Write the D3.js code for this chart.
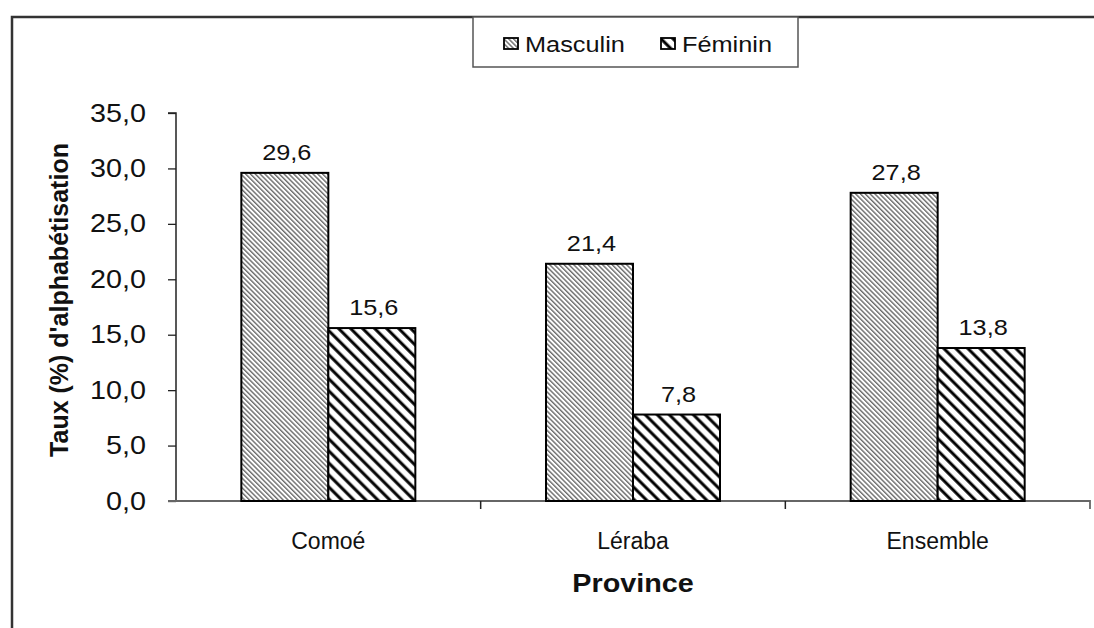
<!DOCTYPE html>
<html>
<head>
<meta charset="utf-8">
<script src="https://cdn.jsdelivr.net/npm/d3@7"></script>
<style>
  body { margin: 0; background: #fff; }
  text { font-family: "Liberation Sans", Arial, sans-serif; fill: #111; }
</style>
</head>
<body>
<svg id="chart" width="1094" height="628"></svg>
<script>
// data
var provinces = ["Comoé", "Léraba", "Ensemble"];
var series = ["Masculin", "Féminin"];
var masculin = [29.6, 21.4, 27.8];
var feminin = [15.6, 7.8, 13.8];
var yTicks = [0, 5, 10, 15, 20, 25, 30, 35];

var svg = d3.select("#chart");
var fmt = function(v) { return d3.format(".1f")(v).replace(".", ","); };
var stretch = 1.15; // the source picture is a bit wide

// patterns
var defs = svg.append("defs");
var p1 = defs.append("pattern")
	.attr("id", "hatch-m")
	.attr("patternUnits", "userSpaceOnUse")
	.attr("width", 3.4).attr("height", 3.4)
	.attr("patternTransform", "rotate(45)");
p1.append("rect").attr("width", 3.4).attr("height", 3.4).attr("fill", "#fff");
p1.append("line").attr("x1", 0).attr("x2", 3.4).attr("y1", 1).attr("y2", 1)
	.attr("stroke", "#6a6a6a").attr("stroke-width", 1.4);

var p2 = defs.append("pattern")
	.attr("id", "hatch-f")
	.attr("patternUnits", "userSpaceOnUse")
	.attr("width", 8.5).attr("height", 8.5)
	.attr("patternTransform", "rotate(45)");
p2.append("rect").attr("width", 8.5).attr("height", 8.5).attr("fill", "#fff");
p2.append("line").attr("x1", 0).attr("x2", 8.5).attr("y1", 2).attr("y2", 2)
	.attr("stroke", "#000").attr("stroke-width", 3);

var fills = ["url(#hatch-m)", "url(#hatch-f)"];

// outer frame
svg.append("path")
	.attr("d", "M12,640 L12,17 L1100,17")
	.attr("fill", "none").attr("stroke", "#333").attr("stroke-width", 2.5);

var plotLeft = 176, plotRight = 1090, plotTop = 113, plotBottom = 501;

var x0 = d3.scaleBand().domain(provinces).range([plotLeft, plotRight]);
var x1 = d3.scaleBand().domain(series).range([0, 174]);
var y = d3.scaleLinear().domain([0, 35]).range([plotBottom, plotTop]);

// y axis
var yAxis = svg.append("g")
	.attr("transform", "translate(" + plotLeft + ",0)")
	.call(d3.axisLeft(y).tickValues(yTicks).tickFormat(fmt).tickSize(8).tickPadding(22));
yAxis.select(".domain").attr("stroke", "#222").attr("stroke-width", 1.5)
	.attr("d", "M-8," + plotTop + "H0V" + plotBottom);
yAxis.selectAll(".tick line").attr("stroke", "#222").attr("stroke-width", 1.3);
yAxis.selectAll(".tick text").attr("class", "stretch").style("font-size", "25px").attr("fill", "#111")
	.style("font-family", "'Liberation Sans', Arial, sans-serif");

// x axis
var xAxis = svg.append("g")
	.attr("transform", "translate(0," + plotBottom + ")")
	.call(d3.axisBottom(x0).tickSize(0).tickPadding(32));
xAxis.select(".domain").attr("stroke", "#666").attr("stroke-width", 1.8)
	.attr("d", "M" + (plotLeft - 8) + ",0H" + plotRight + "V8");
xAxis.selectAll(".tick text").style("font-size", "23px").attr("fill", "#111")
	.style("font-family", "'Liberation Sans', Arial, sans-serif");
// separator ticks between categories
xAxis.selectAll(".sep")
	.data(provinces.slice(1))
	.enter().append("line")
	.attr("x1", function(d) { return x0(d); })
	.attr("x2", function(d) { return x0(d); })
	.attr("y1", 0).attr("y2", 8)
	.attr("stroke", "#222").attr("stroke-width", 1.5);

// bars
var rows = provinces.map(function(p, i) {
	return [{p: p, s: series[0], v: masculin[i], k: 0}, {p: p, s: series[1], v: feminin[i], k: 1}];
});
var groups = svg.selectAll(".grp")
	.data(rows)
	.enter().append("g")
	.attr("class", "grp")
	.attr("transform", function(d) { return "translate(" + (x0(d[0].p) + (x0.bandwidth() - 174) / 2) + ",0)"; });

groups.selectAll("rect")
	.data(function(d) { return d; })
	.enter().append("rect")
	.attr("x", function(d) { return x1(d.s); })
	.attr("width", x1.bandwidth())
	.attr("y", function(d) { return y(d.v); })
	.attr("height", function(d) { return y(0) - y(d.v); })
	.attr("fill", function(d) { return fills[d.k]; })
	.attr("stroke", "#000").attr("stroke-width", 2);

groups.selectAll(".val")
	.data(function(d) { return d; })
	.enter().append("text")
	.attr("class", "val stretch")
	.attr("x", function(d) { return x1(d.s) + x1.bandwidth() / 2 + 2; })
	.attr("y", function(d) { return y(d.v) - 13; })
	.attr("text-anchor", "middle")
	.style("font-size", "22px")
	.text(function(d) { return fmt(d.v); });

// axis titles
svg.append("text")
	.attr("class", "stretch")
	.attr("x", (plotLeft + plotRight) / 2).attr("y", 592)
	.attr("text-anchor", "middle")
	.style("font-size", "25px").style("font-weight", "bold")
	.text("Province");

svg.append("text")
	.attr("transform", "translate(68," + ((plotTop + plotBottom) / 2 - 7) + ") rotate(-90)")
	.attr("text-anchor", "middle")
	.style("font-size", "25px").style("font-weight", "bold")
	.text("Taux (%) d'alphabétisation");

// legend
var legend = svg.append("g");
legend.append("rect")
	.attr("x", 473).attr("y", 17).attr("width", 325).attr("height", 50)
	.attr("fill", "#fff").attr("stroke", "#555").attr("stroke-width", 1.5);
var items = [{s: series[0], x: 504}, {s: series[1], x: 661}];
items.forEach(function(it, i) {
	legend.append("rect")
		.attr("x", it.x).attr("y", 38).attr("width", 14).attr("height", 11)
		.attr("fill", fills[i]).attr("stroke", "#000").attr("stroke-width", 1.8);
	legend.append("text")
		.attr("class", "stretch")
		.attr("x", it.x + 21).attr("y", 52)
		.style("font-size", "22px")
		.text(it.s);
});

// widen horizontal texts to match the source proportions
svg.selectAll("text.stretch").each(function() {
	var w = this.getComputedTextLength();
	d3.select(this).attr("textLength", w * stretch).attr("lengthAdjust", "spacingAndGlyphs");
});
</script>
</body>
</html>
